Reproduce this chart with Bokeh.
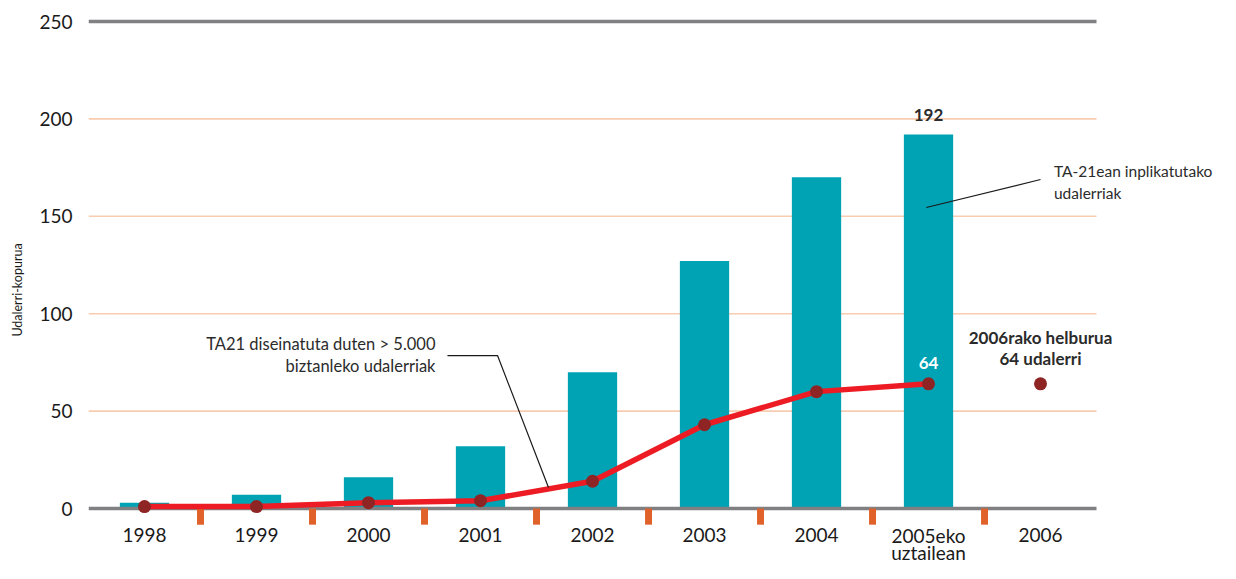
from bokeh.plotting import figure
from bokeh.models import Range1d, FixedTicker, ColumnDataSource
from bokeh.core.properties import value
from bokeh.embed import file_html
from bokeh.resources import INLINE

# ---- data ----
categories = ["1998", "1999", "2000", "2001", "2002", "2003", "2004",
              "2005eko\nuztailean", "2006"]
implicated = [3, 7, 16, 32, 70, 127, 170, 192]          # bars 1998 .. 2005
designed = [1, 1, 3, 4, 14, 43, 60, 64]                  # red line 1998 .. 2005
target_2006 = 64
y_ticks = [0, 50, 100, 150, 200, 250]
grid_ticks = [50, 100, 150, 200]

FONT = "Lato"
TEAL = "#00a3b4"
RED = "#ed1c24"
DOT = "#8e2424"
ORANGE = "#e0622a"
PEACH = "#f8ccb1"
GRAY = "#808083"
TXT = "#2b2b2b"
AX = "#1a1a1a"

n = len(categories)
xc = [i + 0.5 for i in range(n)]

p = figure(width=1220, height=563, output_backend="svg", toolbar_location=None,
           x_range=Range1d(0, 10.107), y_range=Range1d(-28.23, 252.57),
           min_border=0, min_border_left=88, min_border_right=0,
           min_border_top=16, min_border_bottom=0)
p.outline_line_color = None
p.background_fill_color = "white"
p.xgrid.visible = False
p.ygrid.visible = False
p.xaxis.visible = False

# y axis
p.yaxis.ticker = FixedTicker(ticks=y_ticks)
p.yaxis.axis_line_color = None
p.yaxis.major_tick_line_color = None
p.yaxis.minor_tick_line_color = None
p.yaxis.major_label_text_font = FONT
p.yaxis.major_label_text_font_size = "19px"
p.yaxis.major_label_text_color = AX
p.yaxis.major_label_standoff = 10
p.yaxis.axis_label = "Udalerri-kopurua"
p.yaxis.axis_label_text_font = FONT
p.yaxis.axis_label_text_font_style = "normal"
p.yaxis.axis_label_text_font_size = "12.5px"
p.yaxis.axis_label_text_color = AX
p.yaxis.axis_label_standoff = 11

# horizontal grid lines across the category span
p.segment(x0=0, x1=n, y0=grid_ticks, y1=grid_ticks, line_color=PEACH, line_width=1.6)

# bars
bars = ColumnDataSource(dict(x=xc[:len(implicated)], top=implicated))
p.vbar(x="x", top="top", bottom=0, width=0.44, source=bars,
       fill_color=TEAL, line_color=None)

# baseline and top line
p.segment(x0=0, x1=n, y0=[0, 250], y1=[0, 250], line_color=GRAY, line_width=3.5)

# orange separators between categories
sep = [i for i in range(1, n)]
p.vbar(x=sep, top=0, bottom=-8.3, width=0.062, fill_color=ORANGE, line_color=None)

# category labels
line1 = [c.split("\n")[0] for c in categories]
p.text(xc, [-13.6] * n, text=line1, text_align="center", text_baseline="middle",
       text_font=value(FONT), text_font_size="19px", text_color=AX)
extra = [(x, c.split("\n")[1]) for x, c in zip(xc, categories) if "\n" in c]
p.text([e[0] for e in extra], [-22.6] * len(extra), text=[e[1] for e in extra],
       text_align="center", text_baseline="middle",
       text_font=value(FONT), text_font_size="19px", text_color=AX)

# red line + dots
lx = xc[:len(designed)]
p.line(lx, designed, line_color=RED, line_width=5.5, line_join="round", line_cap="round")
p.scatter(lx, designed, size=13, fill_color=DOT, line_color=None)
p.scatter([xc[n - 1]], [target_2006], size=13, fill_color=DOT, line_color=None)

# value labels
p.text([xc[7]], [implicated[7] + 10], text=[str(implicated[7])], text_align="center",
       text_baseline="middle", text_font=value(FONT), text_font_style="bold",
       text_font_size="17px", text_color=TXT)
p.text([xc[7]], [designed[7] + 10.5], text=[str(designed[7])], text_align="center",
       text_baseline="middle", text_font=value(FONT), text_font_style="bold",
       text_font_size="17px", text_color="white")
p.text([xc[8], xc[8]], [target_2006 + 23.8, target_2006 + 13],
       text=["2006rako helburua", f"{target_2006} udalerri"], text_align="center",
       text_baseline="middle", text_font=value(FONT), text_font_style="bold",
       text_font_size="17px", text_color=TXT)

# annotation: implicated
p.line([7.48, 8.5], [154.5, 168.9], line_color=AX, line_width=1.2)
p.text([8.62, 8.62], [173.5, 162.2], text=["TA-21ean inplikatutako", "udalerriak"],
       text_align="left", text_baseline="middle", text_font=value(FONT),
       text_font_size="15.5px", text_color=TXT)

# annotation: designed
p.line([3.205, 3.652, 4.107], [78.5, 78.5, 10.8], line_color=AX, line_width=1.2)
p.text([3.098, 3.098], [84.2, 72.9],
       text=["TA21 diseinatuta duten > 5.000", "biztanleko udalerriak"],
       text_align="right", text_baseline="middle", text_font=value(FONT),
       text_font_size="16.5px", text_color=TXT)

open("out.html", "w").write(file_html(p, INLINE))
